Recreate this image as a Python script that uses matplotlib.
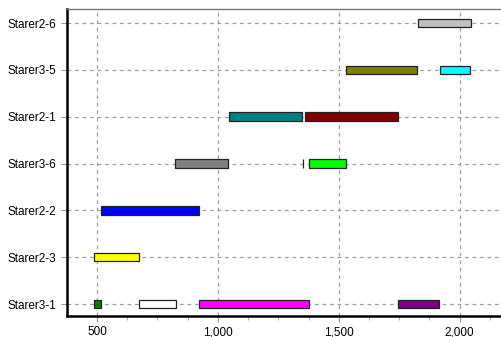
import matplotlib.pyplot as plt
from matplotlib.ticker import MultipleLocator, FuncFormatter

# rows, bottom to top
rows = ['Starer3-1', 'Starer2-3', 'Starer2-2', 'Starer3-6', 'Starer2-1', 'Starer3-5', 'Starer2-6']

# segments: (row, start, end)
seg_rows = ['Starer2-6', 'Starer3-5', 'Starer3-5', 'Starer2-1', 'Starer2-1',
            'Starer3-6', 'Starer3-6', 'Starer3-6', 'Starer2-2', 'Starer2-3',
            'Starer3-1', 'Starer3-1', 'Starer3-1', 'Starer3-1']
seg_start = [1826, 1531, 1920, 1048, 1359, 824, 1353, 1379, 515, 489, 488, 674, 924, 1746]
seg_end = [2048, 1822, 2044, 1350, 1747, 1044, 1354, 1531, 923, 673, 515, 826, 1378, 1916]
seg_colors = ['#c0c0c0', '#808000', '#00ffff', '#008080', '#800000',
              '#808080', '#000000', '#00ff00', '#0000ff', '#ffff00',
              '#008000', '#ffffff', '#ff00ff', '#800080']

plt.rcParams['font.family'] = 'Liberation Sans'
fig = plt.figure(figsize=(5.02, 3.37), dpi=100)
ax = fig.add_axes([67 / 502, 21 / 337, 440 / 502, 307.5 / 337])

for r, s, e, c in zip(seg_rows, seg_start, seg_end, seg_colors):
    ax.barh(rows.index(r), e - s, left=s, height=0.18, color=c,
            edgecolor='#222222', linewidth=0.9, zorder=3)

ax.set_yticks(range(len(rows)))
ax.set_yticklabels(rows)
ax.set_ylim(-0.256, 6.31)
ax.set_xlim(376, 2196)
ax.xaxis.set_major_locator(MultipleLocator(500))
ax.xaxis.set_minor_locator(MultipleLocator(125))
ax.xaxis.set_major_formatter(FuncFormatter(lambda v, p: f'{int(v):,}'))

ax.grid(True, which='major', linestyle=(0, (3, 3)), color='#a0a0a0', linewidth=0.9, zorder=0)
ax.tick_params(axis='both', which='major', labelsize=8.5, length=4, color='#999999')
ax.tick_params(axis='x', which='minor', length=3, color='#999999')

for side in ['left', 'bottom']:
    ax.spines[side].set_linewidth(1.8)
    ax.spines[side].set_color('black')
ax.spines['top'].set_color('#777777')
ax.spines['top'].set_linewidth(1.0)
ax.spines['right'].set_visible(False)

fig.savefig('out.png', dpi=100)
